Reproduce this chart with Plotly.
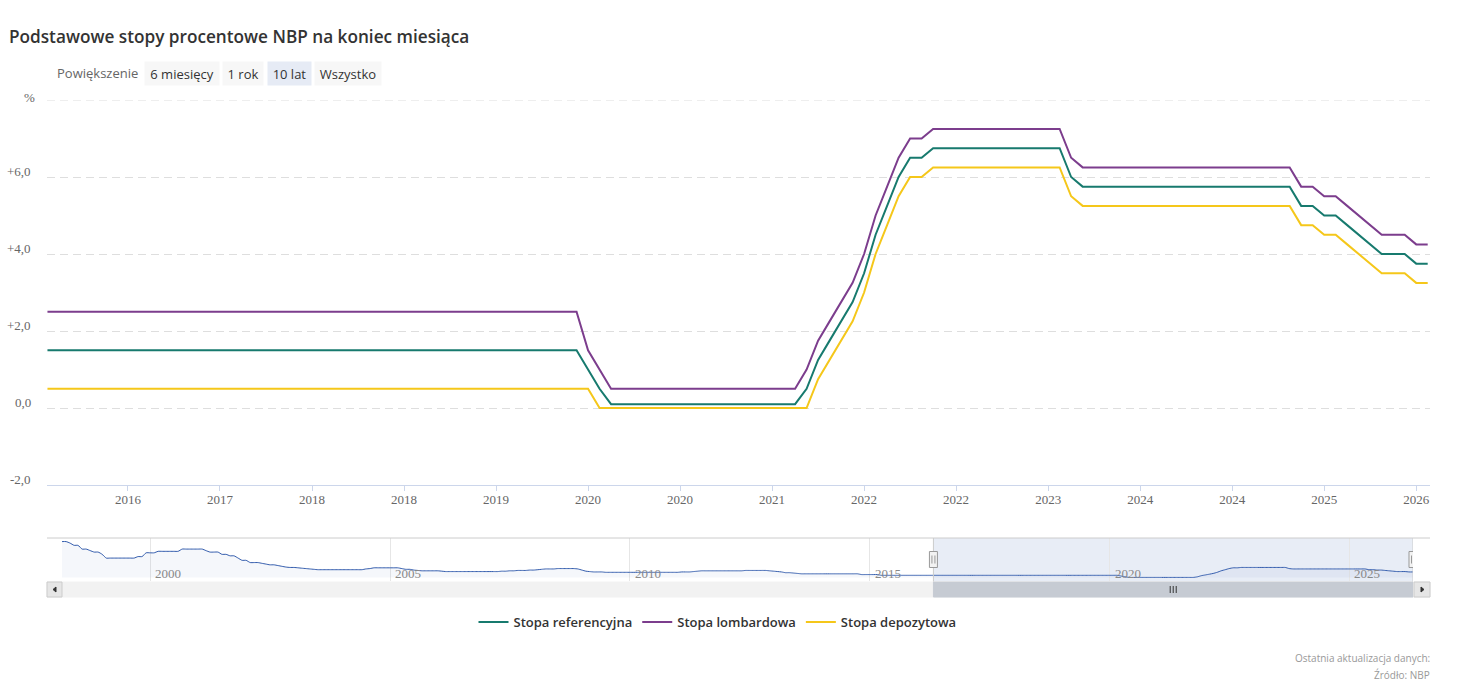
import plotly.graph_objects as go
import pandas as pd

# ---------------- data (end-of-month values, given as change points) ----------------
MAIN_START, MAIN_END = "2016-04", "2026-04"
NAV_START = "1998-02"

ref_changes = [("2016-04", 1.5), ("2020-03", 1.0), ("2020-04", 0.5), ("2020-05", 0.1),
               ("2021-10", 0.5), ("2021-11", 1.25), ("2021-12", 1.75), ("2022-01", 2.25),
               ("2022-02", 2.75), ("2022-03", 3.5), ("2022-04", 4.5), ("2022-05", 5.25),
               ("2022-06", 6.0), ("2022-07", 6.5), ("2022-09", 6.75), ("2023-09", 6.0),
               ("2023-10", 5.75), ("2025-05", 5.25), ("2025-07", 5.0), ("2025-09", 4.75),
               ("2025-10", 4.5), ("2025-11", 4.25), ("2025-12", 4.0), ("2026-03", 3.75)]

lombard_changes = [("2016-04", 2.5), ("2020-03", 1.5), ("2020-04", 1.0), ("2020-05", 0.5),
                   ("2021-10", 1.0), ("2021-11", 1.75), ("2021-12", 2.25), ("2022-01", 2.75),
                   ("2022-02", 3.25), ("2022-03", 4.0), ("2022-04", 5.0), ("2022-05", 5.75),
                   ("2022-06", 6.5), ("2022-07", 7.0), ("2022-09", 7.25), ("2023-09", 6.5),
                   ("2023-10", 6.25), ("2025-05", 5.75), ("2025-07", 5.5), ("2025-09", 5.25),
                   ("2025-10", 5.0), ("2025-11", 4.75), ("2025-12", 4.5), ("2026-03", 4.25)]

deposit_changes = [("2016-04", 0.5), ("2020-04", 0.0), ("2021-11", 0.75), ("2021-12", 1.25),
                   ("2022-01", 1.75), ("2022-02", 2.25), ("2022-03", 3.0), ("2022-04", 4.0),
                   ("2022-05", 4.75), ("2022-06", 5.5), ("2022-07", 6.0), ("2022-09", 6.25),
                   ("2023-09", 5.5), ("2023-10", 5.25), ("2025-05", 4.75), ("2025-07", 4.5),
                   ("2025-09", 4.25), ("2025-10", 4.0), ("2025-11", 3.75), ("2025-12", 3.5),
                   ("2026-03", 3.25)]

# reference rate history before the main window (navigator)
ref_history_changes = [("1998-02", 24.0), ("1998-04", 23.0), ("1998-05", 21.5), ("1998-07", 19.0),
                       ("1998-09", 18.0), ("1998-10", 17.0), ("1998-12", 15.5), ("1999-01", 13.0),
                       ("1999-09", 14.0), ("1999-11", 16.5), ("2000-02", 17.5), ("2000-08", 19.0),
                       ("2001-02", 18.0), ("2001-03", 17.0), ("2001-06", 15.5), ("2001-08", 14.5),
                       ("2001-10", 13.0), ("2001-11", 11.5), ("2002-01", 10.0), ("2002-04", 9.5),
                       ("2002-05", 9.0), ("2002-06", 8.5), ("2002-08", 8.0), ("2002-09", 7.5),
                       ("2002-10", 7.0), ("2002-11", 6.75), ("2003-01", 6.5), ("2003-02", 6.25),
                       ("2003-03", 6.0), ("2003-04", 5.75), ("2003-05", 5.5), ("2003-06", 5.25),
                       ("2004-06", 5.75), ("2004-07", 6.0), ("2004-08", 6.5), ("2005-03", 6.0),
                       ("2005-04", 5.5), ("2005-06", 5.0), ("2005-07", 4.75), ("2005-08", 4.5),
                       ("2006-01", 4.25), ("2006-02", 4.0), ("2007-04", 4.25), ("2007-06", 4.5),
                       ("2007-08", 4.75), ("2007-11", 5.0), ("2008-01", 5.25), ("2008-02", 5.5),
                       ("2008-03", 5.75), ("2008-06", 6.0), ("2008-11", 5.75), ("2008-12", 5.0),
                       ("2009-01", 4.25), ("2009-02", 4.0), ("2009-03", 3.75), ("2009-06", 3.5),
                       ("2011-01", 3.75), ("2011-04", 4.0), ("2011-05", 4.25), ("2011-06", 4.5),
                       ("2012-05", 4.75), ("2012-11", 4.5), ("2012-12", 4.25), ("2013-01", 4.0),
                       ("2013-02", 3.75), ("2013-03", 3.25), ("2013-05", 3.0), ("2013-06", 2.75),
                       ("2013-07", 2.5), ("2014-10", 2.0), ("2015-03", 1.5)]

series_names = ["Stopa referencyjna", "Stopa lombardowa", "Stopa depozytowa"]
series_colors = ["#177a6e", "#7c3d8d", "#f5c71a"]

y_ticks = [-2, 0, 2, 4, 6, 8]
nav_year_ticks = [2000, 2005, 2010, 2015, 2020, 2025]
buttons = ["6 miesięcy", "1 rok", "10 lat", "Wszystko"]
selected_button = "10 lat"


def expand(changes, periods):
    ch = [(pd.Period(m, "M"), v) for m, v in changes]
    out, j, cur = [], 0, None
    for p in periods:
        while j < len(ch) and ch[j][0] <= p:
            cur = ch[j][1]
            j += 1
        out.append(cur)
    return out


months = pd.period_range(MAIN_START, MAIN_END, freq="M")
idx = list(range(len(months)))
main_vals = [expand(c, months) for c in (ref_changes, lombard_changes, deposit_changes)]

nav_months = pd.period_range(NAV_START, MAIN_END, freq="M")
nav_vals = expand(ref_history_changes + ref_changes, nav_months)
nav_dates = [p.end_time.strftime("%Y-%m-%d") for p in nav_months]
sel_start = months[0].end_time.strftime("%Y-%m-%d")
sel_end = months[-1].end_time.strftime("%Y-%m-%d")
sel_mid = (months[0].end_time + (months[-1].end_time - months[0].end_time) / 2).strftime("%Y-%m-%d")

# ---------------- geometry helpers (pixel -> paper) ----------------
W, H = 1471, 688
L, R, T, B = 47, 1430, 100, 597


def px(x):
    return (x - L) / (R - L)


def py(y):
    return (B - y) / (B - T)


SANS = "Open Sans"
SERIF = "Liberation Serif"

fig = go.Figure()

for name, col, vals in zip(series_names, series_colors, main_vals):
    fig.add_trace(go.Scatter(x=idx, y=vals, name=name, mode="lines",
                             line=dict(color=col, width=2), xaxis="x", yaxis="y"))

fig.add_trace(go.Scatter(x=nav_dates, y=nav_vals, mode="lines", showlegend=False,
                         line=dict(color="#335cad", width=1, shape="spline", smoothing=0.6),
                         fill="tozeroy", fillcolor="rgba(51,92,173,0.05)",
                         xaxis="x2", yaxis="y2", hoverinfo="skip"))

tick_idx = list(range(7, len(months), 8))
tick_txt = [str(months[i].year) for i in tick_idx]

nav_lo = min(nav_vals)
nav_hi = max(nav_vals)
pad = (nav_hi - nav_lo) * 0.1

shapes = []
# top gridline (at the range edge)
shapes.append(dict(type="line", xref="paper", yref="y", x0=0, x1=1, y0=max(y_ticks), y1=max(y_ticks),
                   line=dict(color="#dedede", width=1, dash="8px,5px"), layer="below"))
# navigator selection mask
shapes.append(dict(type="rect", xref="x2", yref="y2 domain", x0=sel_start, x1=sel_end, y0=0, y1=1,
                   fillcolor="rgba(102,133,194,0.15)", line=dict(width=0), layer="below"))
# navigator outline
shapes.append(dict(type="line", xref="paper", yref="paper", x0=0, x1=1, y0=py(538), y1=py(538),
                   line=dict(color="#cccccc", width=1)))
for d in (sel_start, sel_end):
    shapes.append(dict(type="line", xref="x2", yref="paper", x0=d, x1=d, y0=py(582), y1=py(538),
                       line=dict(color="#cccccc", width=1)))
# scrollbar track
shapes.append(dict(type="rect", xref="paper", yref="paper", x0=0, x1=1, y0=py(597), y1=py(582),
                   fillcolor="#f2f2f2", line=dict(color="#f2f2f2", width=1)))
# scrollbar thumb
shapes.append(dict(type="rect", xref="x2", yref="paper", x0=sel_start, x1=sel_end, y0=py(597), y1=py(582),
                   fillcolor="#c6cbd3", line=dict(color="#c6cbd3", width=1)))
# buttons
for x0, x1 in ((47, 62), (1414, 1430)):
    shapes.append(dict(type="rect", xref="paper", yref="paper", x0=px(x0), x1=px(x1), y0=py(597), y1=py(582),
                       fillcolor="#e6e6e6", line=dict(color="#cccccc", width=1)))
# arrows
shapes.append(dict(type="path", xref="paper", yref="paper",
                   path=f"M {px(56)} {py(587)} L {px(53)} {py(589.5)} L {px(56)} {py(592)} Z",
                   fillcolor="#333333", line=dict(color="#333333", width=1)))
shapes.append(dict(type="path", xref="paper", yref="paper",
                   path=f"M {px(1421)} {py(587)} L {px(1424)} {py(589.5)} L {px(1421)} {py(592)} Z",
                   fillcolor="#333333", line=dict(color="#333333", width=1)))
# grip
for dx in (-3, 0, 3):
    shapes.append(dict(type="line", xref="x2", yref="paper", xsizemode="pixel", xanchor=sel_mid,
                       x0=dx, x1=dx, y0=py(593), y1=py(586), line=dict(color="#333333", width=1)))
# handles
mid_nav = (nav_lo - pad + nav_hi + pad) / 2
for d in (sel_start, sel_end):
    shapes.append(dict(type="rect", xref="x2", yref="y2", xsizemode="pixel", ysizemode="pixel",
                       xanchor=d, yanchor=mid_nav, x0=-4, x1=4, y0=-8, y1=8,
                       fillcolor="#f2f2f2", line=dict(color="#999999", width=1)))
    for dx in (-1.5, 1.5):
        shapes.append(dict(type="line", xref="x2", yref="y2", xsizemode="pixel", ysizemode="pixel",
                           xanchor=d, yanchor=mid_nav, x0=dx, x1=dx, y0=-4, y1=4,
                           line=dict(color="#999999", width=1)))

annotations = []
# title
annotations.append(dict(text="Podstawowe stopy procentowe NBP na koniec miesiąca", xref="paper", yref="paper",
                        x=px(7), y=py(36), xanchor="left", yanchor="middle", showarrow=False,
                        font=dict(family=SANS, size=17.2, color="#333333", weight=600)))
# range selector
annotations.append(dict(text="Powiększenie", xref="paper", yref="paper", x=px(55), y=py(73),
                        xanchor="left", yanchor="middle", showarrow=False,
                        font=dict(family=SANS, size=13, color="#666666")))
btn_geom = [(145, 74), (223, 40), (268, 43), (315, 66)]
for label, (bx, bw) in zip(buttons, btn_geom):
    annotations.append(dict(text=label, xref="paper", yref="paper", x=px(bx + bw / 2), y=py(73.5),
                            xanchor="center", yanchor="middle", showarrow=False, width=bw, height=23,
                            borderpad=0, bgcolor="#e6ebf5" if label == selected_button else "#f7f7f7",
                            font=dict(family=SANS, size=13, color="#333333")))
# y labels
for v in y_ticks:
    if v == 8:
        t, ys = "%", 3
    elif v == 0:
        t, ys = "0,0", 6
    else:
        t, ys = f"{v:+.1f}".replace(".", ","), 6
    annotations.append(dict(text=t, xref="paper", yref="y", x=px(33 if v != 8 else 37), y=v, xanchor="right",
                            yanchor="middle", yshift=ys, showarrow=False,
                            font=dict(family=SERIF, size=13, color="#666666")))
# navigator year labels
for yr in nav_year_ticks:
    annotations.append(dict(text=str(yr), xref="x2", yref="paper", x=f"{yr}-01-01", y=py(573),
                            xanchor="left", yanchor="middle", xshift=3, showarrow=False,
                            font=dict(family=SERIF, size=13, color="#888888")))
# footer
annotations.append(dict(text="Ostatnia aktualizacja danych:", xref="paper", yref="paper", x=px(1432), y=py(658),
                        xanchor="right", yanchor="middle", showarrow=False,
                        font=dict(family=SANS, size=10, color="#999999")))
annotations.append(dict(text="Źródło: NBP", xref="paper", yref="paper", x=px(1432), y=py(675),
                        xanchor="right", yanchor="middle", showarrow=False,
                        font=dict(family=SANS, size=10, color="#999999")))

fig.update_layout(
    width=W, height=H,
    margin=dict(l=L, r=W - R, t=T, b=H - B),
    paper_bgcolor="white", plot_bgcolor="white",
    showlegend=True,
    legend=dict(orientation="h", x=0.5 - 21 / (R - L), xanchor="center", y=py(622), yanchor="middle",
                font=dict(family=SANS, size=13, color="#333333", weight=600),
                itemwidth=30, tracegroupgap=0),
    xaxis=dict(domain=[0, 1], anchor="y", range=[-0.04, 120.2], tickmode="array",
               tickvals=tick_idx, ticktext=tick_txt, ticks="outside", ticklen=5, tickcolor="#ccd6eb",
               ticklabelstandoff=-3,
               showline=True, linecolor="#ccd6eb", linewidth=1, showgrid=False, zeroline=False,
               tickfont=dict(family=SERIF, size=13, color="#666666")),
    yaxis=dict(domain=[py(485), 1], anchor="x", range=[-2, 8], tickvals=y_ticks, showticklabels=False,
               showgrid=True, gridcolor="#dedede", griddash="8px,5px", zeroline=False),
    xaxis2=dict(domain=[px(62), px(1413)], anchor="y2", type="date",
                range=[nav_dates[0], nav_dates[-1]], tickvals=[f"{y}-01-01" for y in nav_year_ticks],
                showticklabels=False, showgrid=True, gridcolor="#e6e6e6", zeroline=False, ticks=""),
    yaxis2=dict(domain=[py(581), py(538)], anchor="x2", range=[nav_lo - pad, nav_hi + pad],
                visible=False),
    shapes=shapes,
    annotations=annotations,
    hovermode=False,
)

fig.write_html("out.html")
